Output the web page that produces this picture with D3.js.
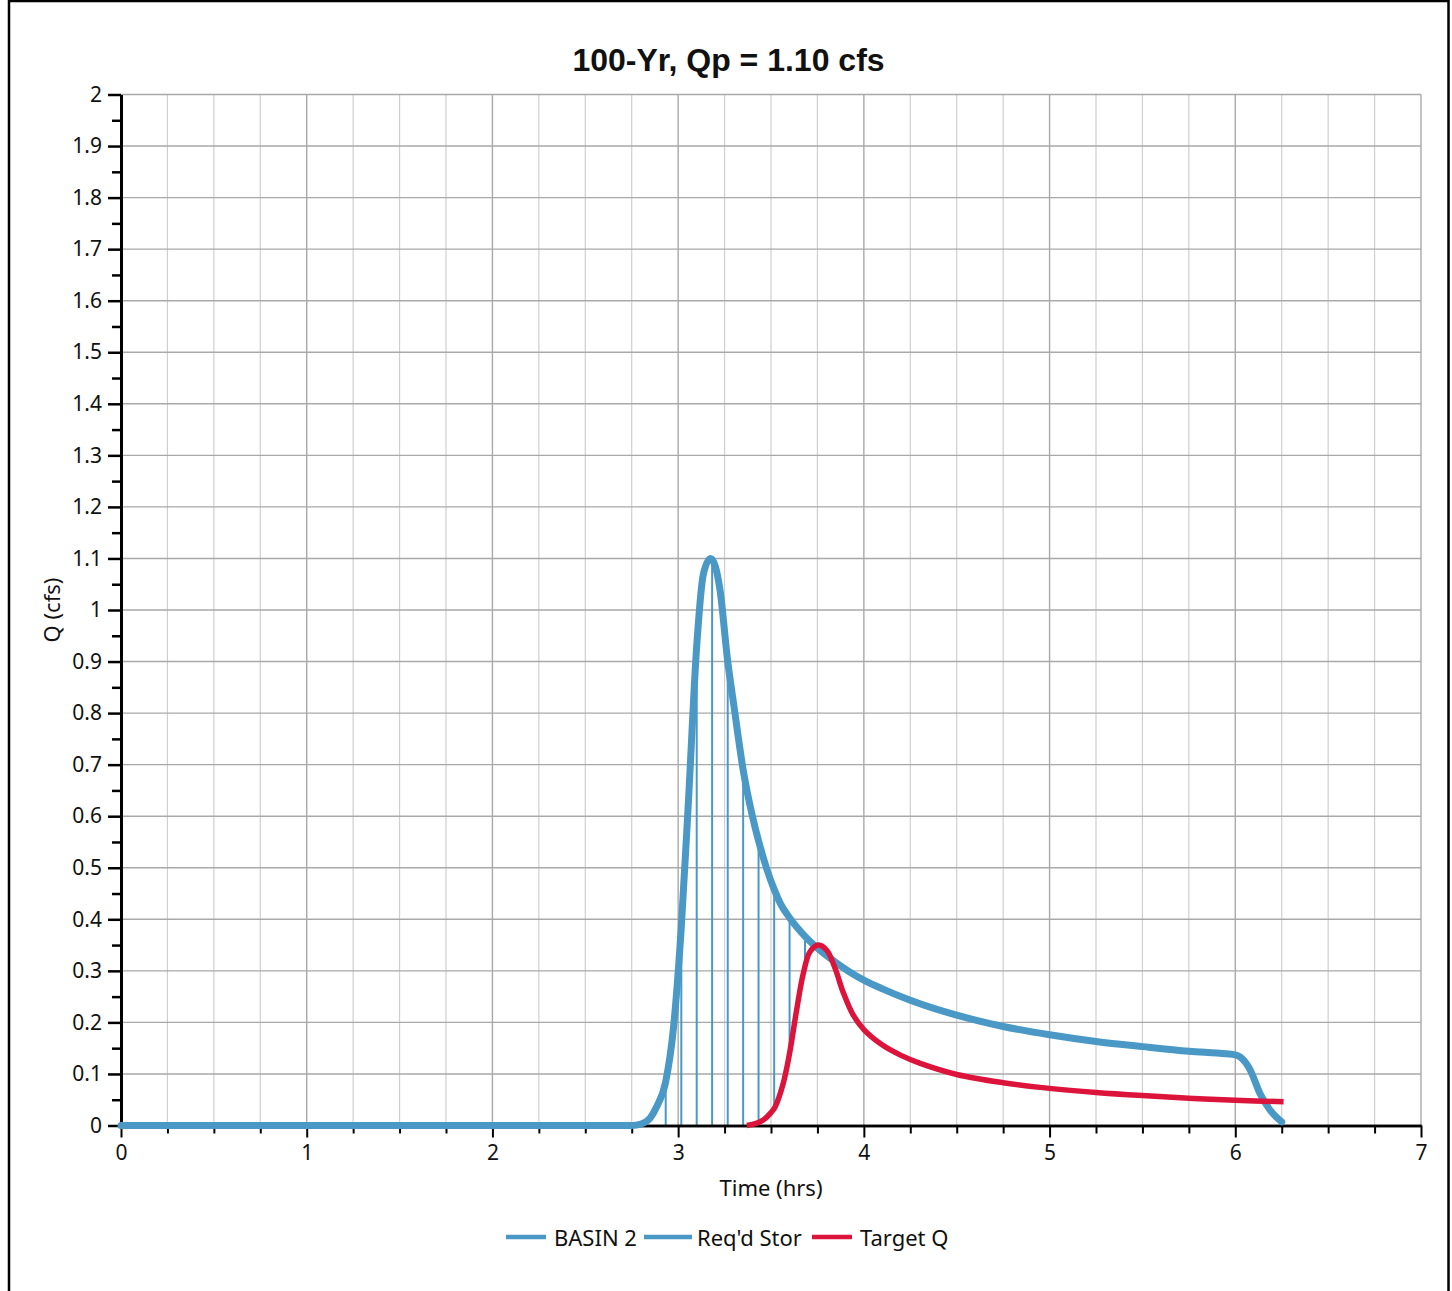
<!DOCTYPE html>
<html>
<head>
<meta charset="utf-8">
<script src="https://cdn.jsdelivr.net/npm/d3@7"></script>
<style>
  body { margin: 0; background: #fff; }
  text { font-family: "Noto Sans", "Open Sans", sans-serif; fill: #111; }
</style>
</head>
<body>
<svg width="1452" height="1291"></svg>
<script>
// BASIN 2 inflow hydrograph (hrs, cfs)
const basinTime = [0, 2.75, 2.80, 2.85, 2.885, 2.933, 2.975, 3.017, 3.055, 3.10, 3.136, 3.175, 3.225, 3.267, 3.30, 3.35, 3.40, 3.433, 3.475, 3.517, 3.55, 3.60, 3.683, 3.75, 3.85, 3.95, 4.0, 4.1, 4.25, 4.5, 4.75, 5.0, 5.25, 5.5, 5.75, 5.95, 6.0, 6.03, 6.08, 6.133, 6.187, 6.25];
const basinQ = [0, 0, 0.003, 0.015, 0.037, 0.085, 0.19, 0.385, 0.626, 0.93, 1.07, 1.10, 1.04, 0.90, 0.815, 0.69, 0.60, 0.552, 0.50, 0.458, 0.431, 0.403, 0.367, 0.344, 0.316, 0.292, 0.282, 0.265, 0.243, 0.214, 0.192, 0.176, 0.163, 0.153, 0.144, 0.139, 0.137, 0.132, 0.108, 0.062, 0.030, 0.007];

// Target Q outflow
const targetTime = [3.37, 3.42, 3.46, 3.50, 3.522, 3.566, 3.60, 3.638, 3.674, 3.71, 3.755, 3.80, 3.845, 3.889, 3.94, 4.0, 4.1, 4.2, 4.3, 4.5, 4.75, 5.0, 5.25, 5.5, 5.75, 6.0, 6.26];
const targetQ = [0, 0.004, 0.011, 0.025, 0.036, 0.082, 0.14, 0.224, 0.295, 0.337, 0.350, 0.340, 0.305, 0.258, 0.216, 0.186, 0.156, 0.136, 0.121, 0.099, 0.083, 0.072, 0.064, 0.058, 0.053, 0.049, 0.046];

// Req'd Stor hatch lines (every 5 min)
const reqStorTime = [2.933, 3.017, 3.100, 3.183, 3.267, 3.350, 3.433, 3.517, 3.600, 3.683];
const reqStorTop = [0.085, 0.385, 0.93, 1.09, 0.90, 0.69, 0.552, 0.458, 0.403, 0.367];
const reqStorBase = [0, 0, 0, 0, 0, 0, 0.007, 0.033, 0.14, 0.305];

const seriesNames = ["BASIN 2", "Req'd Stor", "Target Q"];
const seriesColors = ["#4a98c6", "#4a98c6", "#dc143c"];

const xMajor = d3.range(0, 8, 1);
const xMinor = d3.range(0, 7.01, 0.25).filter(v => Math.abs(v - Math.round(v)) > 1e-6);
const yMajor = d3.range(0, 21).map(i => i / 10);
const yMinor = d3.range(0, 20).map(i => i / 10 + 0.05);

const margin = { left: 121, right: 1421, top: 94.5, bottom: 1125.5 };

const svg = d3.select('svg');

const x = d3.scaleLinear().domain([0, 7]).range([margin.left, margin.right]);
const y = d3.scaleLinear().domain([0, 2]).range([margin.bottom, margin.top]);

// frame
svg.append('rect')
  .attr('x', 9).attr('y', 1)
  .attr('width', 1439.5).attr('height', 1320)
  .attr('fill', 'none').attr('stroke', '#000').attr('stroke-width', 2.5);

// grid
const grid = svg.append('g');
grid.selectAll('.vminor').data(xMinor).enter().append('line')
  .attr('x1', d => x(d)).attr('x2', d => x(d))
  .attr('y1', margin.top).attr('y2', margin.bottom)
  .attr('stroke', '#cfcfcf').attr('stroke-width', 1.2);
grid.selectAll('.vmajor').data(xMajor.slice(1)).enter().append('line')
  .attr('x1', d => x(d)).attr('x2', d => x(d))
  .attr('y1', margin.top).attr('y2', margin.bottom)
  .attr('stroke', '#a9a9a9').attr('stroke-width', 1.4);
grid.selectAll('.hmajor').data(yMajor.slice(1)).enter().append('line')
  .attr('x1', margin.left).attr('x2', margin.right)
  .attr('y1', d => y(d)).attr('y2', d => y(d))
  .attr('stroke', '#a9a9a9').attr('stroke-width', 1.4);

// req'd storage hatch
svg.append('g').selectAll('line')
  .data(reqStorTime).enter().append('line')
  .attr('x1', d => x(d)).attr('x2', d => x(d))
  .attr('y1', (d, i) => y(reqStorBase[i])).attr('y2', (d, i) => y(reqStorTop[i]))
  .attr('stroke', seriesColors[1]).attr('stroke-width', 2);

// axes
const axisX = svg.append('g').attr('transform', `translate(0,${margin.bottom})`);
axisX.call(d3.axisBottom(x).tickValues(xMinor).tickSize(8).tickSizeOuter(0).tickFormat(''));
axisX.append('g').call(d3.axisBottom(x).tickValues(xMajor).tickSize(12).tickSizeOuter(0).tickPadding(8).tickFormat(d3.format('d')));
axisX.selectAll('path.domain').attr('stroke', '#000').attr('stroke-width', 2.5);
axisX.selectAll('line').attr('stroke', '#000').attr('stroke-width', 2);
axisX.selectAll('text').style('font-size', '21px').attr('fill', '#111');

const axisY = svg.append('g').attr('transform', `translate(${margin.left},0)`);
axisY.call(d3.axisLeft(y).tickValues(yMinor).tickSize(9).tickSizeOuter(0).tickFormat(''));
axisY.append('g').call(d3.axisLeft(y).tickValues(yMajor).tickSize(13).tickSizeOuter(0).tickPadding(6).tickFormat(d => d3.format('~g')(d)));
axisY.selectAll('path.domain').attr('stroke', '#000').attr('stroke-width', 3);
axisY.selectAll('line').attr('stroke', '#000').attr('stroke-width', 2.5);
axisY.selectAll('text').style('font-size', '21px').attr('fill', '#111');

// curves
const line = d3.line().x(d => x(d[0])).y(d => y(d[1])).curve(d3.curveMonotoneX);
const smoothLine = d3.line().x(d => x(d[0])).y(d => y(d[1])).curve(d3.curveCatmullRom.alpha(0.5));

svg.append('path')
  .datum(d3.zip(basinTime, basinQ))
  .attr('d', line)
  .attr('fill', 'none').attr('stroke', seriesColors[0])
  .attr('stroke-width', 7).attr('stroke-linejoin', 'round').attr('stroke-linecap', 'round');

svg.append('path')
  .datum(d3.zip(targetTime, targetQ))
  .attr('d', smoothLine)
  .attr('fill', 'none').attr('stroke', seriesColors[2])
  .attr('stroke-width', 5.5).attr('stroke-linejoin', 'round');

// titles
svg.append('text')
  .attr('x', 728.5).attr('y', 71)
  .attr('text-anchor', 'middle')
  .style('font-family', '"Liberation Sans", Arial, sans-serif')
  .style('font-weight', 'bold').style('font-size', '32px')
  .text('100-Yr, Qp = 1.10 cfs');

svg.append('text')
  .attr('x', (margin.left + margin.right) / 2).attr('y', 1196)
  .attr('text-anchor', 'middle').style('font-size', '22px')
  .text('Time (hrs)');

svg.append('text')
  .attr('transform', `translate(60,${(margin.top + margin.bottom) / 2}) rotate(-90)`)
  .attr('text-anchor', 'middle').style('font-size', '22px')
  .text('Q (cfs)');

// legend
const legendX = [506, 644, 812];
const legend = svg.append('g').selectAll('g')
  .data(seriesNames).enter().append('g')
  .attr('transform', (d, i) => `translate(${legendX[i]},1237)`);
legend.append('line')
  .attr('x1', 0).attr('x2', (d, i) => i === 1 ? 48 : 40)
  .attr('stroke', (d, i) => seriesColors[i]).attr('stroke-width', 4.5);
legend.append('text')
  .attr('x', (d, i) => i === 1 ? 53 : 48).attr('y', 9)
  .style('font-size', '22px')
  .text(d => d);
</script>
</body>
</html>
